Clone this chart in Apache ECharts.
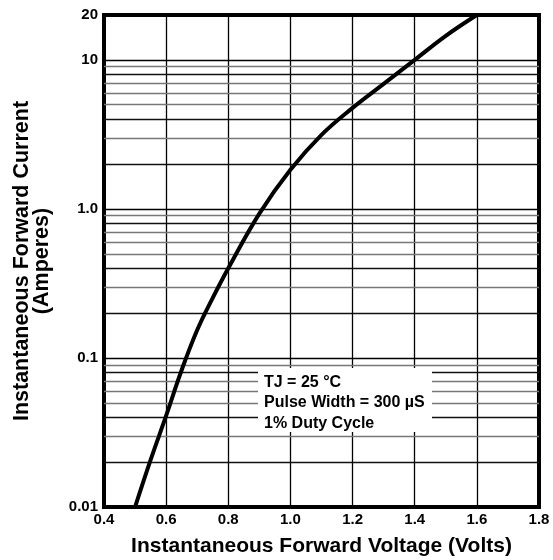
<!DOCTYPE html>
<html>
<head>
<meta charset="utf-8">
<script src="https://cdn.jsdelivr.net/npm/echarts@6/dist/echarts.min.js"></script>
<style>
  html, body { margin: 0; padding: 0; background: #fff; }
  #chart { width: 553px; height: 560px; }
</style>
</head>
<body>
<div id="chart"></div>
<script>
// forward voltage (V) vs instantaneous forward current (A)
var voltage = [0.5, 0.55, 0.6, 0.65, 0.7, 0.75, 0.8, 0.9, 1.0, 1.1, 1.2, 1.3, 1.4, 1.5, 1.6];
var current = [0.01, 0.0207, 0.041, 0.083, 0.154, 0.253, 0.40, 0.93, 1.83, 3.14, 4.76, 6.9, 10, 14.5, 20];

// log grid lines inside each decade
var minorLines = [0.02, 0.03, 0.04, 0.05, 0.06, 0.07, 0.08, 0.09,
  0.2, 0.3, 0.4, 0.5, 0.6, 0.7, 0.8, 0.9,
  2, 3, 4, 5, 6, 7, 8, 9];
var darkLines = [0.02, 0.04, 0.08, 0.2, 0.4, 0.8, 2, 4, 8];

var noteLines = ['TJ = 25 \u00B0C', 'Pulse Width = 300 \u00B5S', '1% Duty Cycle'];

var font = '"Liberation Sans", Arial, sans-serif';

var myChart = echarts.init(document.getElementById('chart'));

myChart.setOption({
  animation: false,
  grid: {
    left: 104,
    right: 14,
    top: 15,
    bottom: 53,
    outerBoundsMode: 'none',
    show: true,
    borderColor: '#000',
    borderWidth: 4,
    backgroundColor: 'transparent'
  },
  xAxis: {
    type: 'value',
    min: 0.4,
    max: 1.8,
    interval: 0.2,
    name: 'Instantaneous Forward Voltage (Volts)',
    nameLocation: 'middle',
    nameGap: 29,
    nameTextStyle: { fontFamily: font, fontWeight: 'bold', fontSize: 21, color: '#000' },
    axisLine: { lineStyle: { color: '#000', width: 4 } },
    axisTick: { show: false },
    axisLabel: {
      fontFamily: font, fontWeight: 'bold', fontSize: 15, color: '#000', margin: 5,
      formatter: function (v) { return v.toFixed(1); }
    },
    splitLine: { lineStyle: { color: '#000', width: 1.3 } }
  },
  yAxis: {
    type: 'log',
    logBase: 10,
    min: 0.01,
    max: 20,
    name: 'Instantaneous Forward Current\n(Amperes)',
    nameLocation: 'middle',
    nameGap: 52,
    nameTextStyle: { fontFamily: font, fontWeight: 'bold', fontSize: 21.5, color: '#000', lineHeight: 20 },
    axisLine: { lineStyle: { color: '#000', width: 4 } },
    axisTick: { show: false },
    axisLabel: {
      fontFamily: font, fontWeight: 'bold', fontSize: 15, color: '#000', margin: 6,
      formatter: function (v) { return v === 1 ? '1.0' : String(v); }
    },
    splitLine: { lineStyle: { color: '#000', width: 1.3 } }
  },
  series: [
    {
      type: 'line',
      data: voltage.map(function (v, i) { return [v, current[i]]; }),
      smooth: 0.4,
      symbol: 'none',
      lineStyle: { color: '#000', width: 4 },
      z: 5,
      markLine: {
        silent: true,
        symbol: 'none',
        label: { show: false },
        animation: false,
        data: minorLines.map(function (y) {
          return {
            yAxis: y,
            lineStyle: {
              type: 'solid',
              width: 1.3,
              color: darkLines.indexOf(y) >= 0 ? '#111' : '#777'
            }
          };
        })
      }
    }
  ],
  graphic: [
    {
      type: 'rect',
      left: 258,
      top: 368,
      shape: { width: 174, height: 64 },
      style: { fill: '#fff' },
      z: 10
    },
    {
      type: 'text',
      left: 264,
      top: 372,
      z: 11,
      style: {
        text: noteLines.join('\n'),
        fontFamily: font,
        fontWeight: 'bold',
        fontSize: 16,
        lineHeight: 20.5,
        fill: '#000'
      }
    }
  ]
});
</script>
</body>
</html>
